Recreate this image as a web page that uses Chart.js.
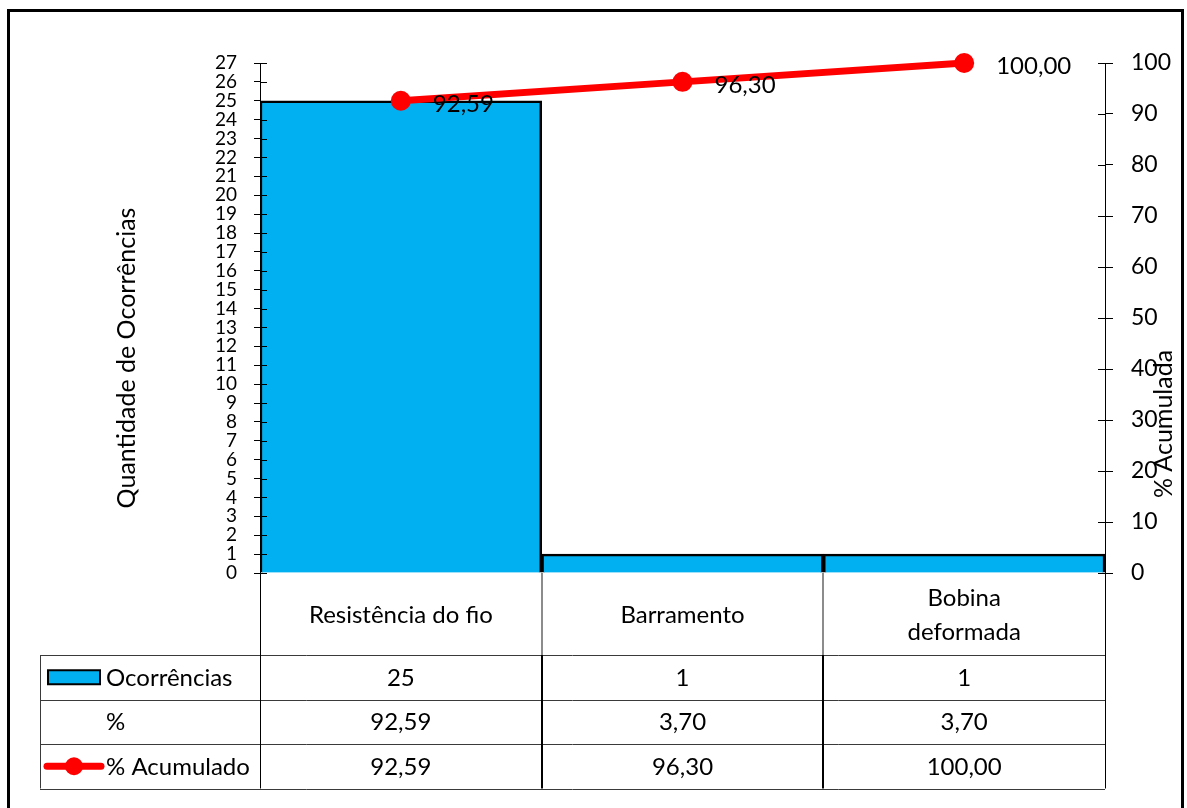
<!DOCTYPE html>
<html lang="pt-BR">
<head>
<meta charset="utf-8">
<title>Diagrama de Pareto</title>
<script src="https://cdn.jsdelivr.net/npm/chart.js@4.4.0/dist/chart.umd.min.js"></script>
<style>
  html, body { margin: 0; padding: 0; background: #fff; }
  canvas { display: block; }
</style>
</head>
<body>
<canvas id="pareto" width="1187" height="808"></canvas>
<script>
// Dados do gráfico
const categorias = ['Resistência do fio', 'Barramento', ['Bobina', 'deformada']];
const ocorrencias = [25, 1, 1];
const percentual = [92.59, 3.70, 3.70];
const acumulado = [92.59, 96.30, 100.00];
const rotulosTabela = ['Ocorrências', '%', '% Acumulado'];
const tituloEsq = 'Quantidade de Ocorrências';
const tituloDir = '% Acumulada';

const FONTE = 'Lato, "Open Sans", sans-serif';
const AZUL = '#00B0F0';
const VERMELHO = '#FF0000';

function fmt(v) {
  return v.toFixed(2).replace('.', ',');
}

// Desenha tabela de dados, títulos, rótulos e moldura
const extrasPareto = {
  id: 'extrasPareto',
  afterDraw(chart) {
    const ctx = chart.ctx;
    const area = chart.chartArea;
    const sx = chart.scales.x;
    const sy = chart.scales.y;
    const sy1 = chart.scales.y1;

    ctx.save();

    // ticks internos (atravessam o eixo)
    ctx.strokeStyle = '#000';
    ctx.lineWidth = 1;
    sy.ticks.forEach(t => {
      const py = Math.round(sy.getPixelForValue(t.value)) + 0.5;
      ctx.beginPath(); ctx.moveTo(area.left, py); ctx.lineTo(area.left + 7, py); ctx.stroke();
    });
    sy1.ticks.forEach(t => {
      const py = Math.round(sy1.getPixelForValue(t.value)) + 0.5;
      ctx.beginPath(); ctx.moveTo(area.right - 7, py); ctx.lineTo(area.right, py); ctx.stroke();
    });

    // rótulos da linha acumulada
    ctx.fillStyle = '#000';
    ctx.font = '24px ' + FONTE;
    ctx.textAlign = 'left';
    ctx.textBaseline = 'middle';
    chart.getDatasetMeta(1).data.forEach((pt, i) => {
      ctx.fillText(fmt(acumulado[i]), pt.x + 32, pt.y + 3);
    });

    // títulos dos eixos
    ctx.font = '25px ' + FONTE;
    ctx.textAlign = 'center';
    ctx.save();
    ctx.translate(127, 358);
    ctx.rotate(-Math.PI / 2);
    ctx.fillText(tituloEsq, 0, 0);
    ctx.restore();
    ctx.save();
    ctx.translate(1164, 424);
    ctx.rotate(-Math.PI / 2);
    ctx.fillText(tituloDir, 0, 0);
    ctx.restore();

    // tabela de dados
    const half = (sx.getPixelForValue(1) - sx.getPixelForValue(0)) / 2;
    const bordas = categorias.map((c, i) => sx.getPixelForValue(i) - half);
    bordas.push(area.right);
    const topo = area.bottom;
    const catBase = topo + 82;
    const altLinha = 44.5;
    const linhas = [catBase, catBase + altLinha, catBase + 2 * altLinha, catBase + 3 * altLinha];
    const colEsq = 40;
    const fim = linhas[3];

    // linhas horizontais
    ctx.strokeStyle = '#3a3a3a';
    ctx.lineWidth = 1;
    linhas.forEach(ly => {
      const y = Math.round(ly) + 0.5;
      ctx.beginPath(); ctx.moveTo(colEsq, y); ctx.lineTo(area.right, y); ctx.stroke();
    });
    // coluna esquerda
    ctx.beginPath(); ctx.moveTo(colEsq + 0.5, linhas[0]); ctx.lineTo(colEsq + 0.5, fim); ctx.stroke();
    // verticais externas
    ctx.strokeStyle = '#000';
    ctx.beginPath(); ctx.moveTo(Math.round(area.left) + 0.5, topo); ctx.lineTo(Math.round(area.left) + 0.5, fim); ctx.stroke();
    ctx.beginPath(); ctx.moveTo(Math.round(area.right) + 0.5, topo); ctx.lineTo(Math.round(area.right) + 0.5, fim); ctx.stroke();
    // separadores internos
    for (let i = 1; i < categorias.length; i++) {
      const bx = Math.round(bordas[i]);
      ctx.strokeStyle = '#8c8c8c';
      ctx.lineWidth = 2;
      ctx.beginPath(); ctx.moveTo(bx, topo); ctx.lineTo(bx, catBase); ctx.stroke();
      ctx.strokeStyle = '#000';
      ctx.beginPath(); ctx.moveTo(bx, catBase); ctx.lineTo(bx, fim); ctx.stroke();
    }

    // textos das categorias
    ctx.fillStyle = '#000';
    ctx.font = '24px ' + FONTE;
    ctx.textAlign = 'center';
    ctx.textBaseline = 'middle';
    categorias.forEach((c, i) => {
      const cx = sx.getPixelForValue(i);
      const partes = Array.isArray(c) ? c : [c];
      const meio = (topo + catBase) / 2 + 1;
      partes.forEach((p, j) => {
        ctx.fillText(p, cx, meio + (j - (partes.length - 1) / 2) * 34);
      });
    });

    // valores
    const series = [ocorrencias.map(String), percentual.map(fmt), acumulado.map(fmt)];
    series.forEach((serie, r) => {
      const cy = linhas[r] + altLinha / 2 + 1;
      serie.forEach((v, i) => {
        ctx.fillText(v, sx.getPixelForValue(i), cy);
      });
    });

    // legenda dentro da tabela
    ctx.textAlign = 'left';
    rotulosTabela.forEach((rot, r) => {
      ctx.fillText(rot, 106, linhas[r] + altLinha / 2 + 1);
    });
    // chave da barra
    const ky = linhas[0] + altLinha / 2;
    ctx.fillStyle = AZUL;
    ctx.fillRect(48, ky - 7, 52, 14);
    ctx.strokeStyle = '#000';
    ctx.lineWidth = 2;
    ctx.strokeRect(48, ky - 7, 52, 14);
    // chave da linha
    const ly = linhas[2] + altLinha / 2;
    ctx.strokeStyle = VERMELHO;
    ctx.lineWidth = 7;
    ctx.lineCap = 'round';
    ctx.beginPath(); ctx.moveTo(47, ly); ctx.lineTo(101, ly); ctx.stroke();
    ctx.fillStyle = VERMELHO;
    ctx.beginPath(); ctx.arc(74, ly, 9, 0, Math.PI * 2); ctx.fill();

    // moldura
    ctx.strokeStyle = '#000';
    ctx.lineWidth = 3;
    ctx.lineCap = 'butt';
    ctx.strokeRect(8.5, 10.5, 1174, 820);

    ctx.restore();
  }
};

const ctx = document.getElementById('pareto').getContext('2d');

new Chart(ctx, {
  data: {
    labels: categorias,
    datasets: [
      {
        type: 'bar',
        label: 'Ocorrências',
        data: ocorrencias,
        yAxisID: 'y',
        backgroundColor: AZUL,
        borderColor: '#000',
        borderWidth: 2.5,
        categoryPercentage: 1,
        barPercentage: 1,
        order: 2
      },
      {
        type: 'line',
        label: '% Acumulado',
        data: acumulado,
        yAxisID: 'y1',
        borderColor: VERMELHO,
        backgroundColor: VERMELHO,
        borderWidth: 7,
        pointRadius: 10,
        pointBorderWidth: 0,
        pointBackgroundColor: VERMELHO,
        tension: 0,
        clip: false,
        order: 1
      }
    ]
  },
  options: {
    responsive: false,
    animation: false,
    layout: { padding: { top: 63, left: 0, right: 0, bottom: 0 } },
    plugins: {
      legend: { display: false },
      tooltip: { enabled: false }
    },
    scales: {
      x: {
        offset: true,
        ticks: { display: false },
        grid: { display: false },
        border: { display: false },
        afterFit: s => { s.height = 235; }
      },
      y: {
        position: 'left',
        min: 0,
        max: 27,
        ticks: {
          stepSize: 1,
          autoSkip: false,
          color: '#000',
          padding: 17,
          font: { family: FONTE, size: 19 }
        },
        grid: { drawOnChartArea: false, tickLength: 6, color: '#000' },
        border: { color: '#000', width: 1 },
        afterFit: s => { s.width = 260; }
      },
      y1: {
        position: 'right',
        min: 0,
        max: 100,
        ticks: {
          stepSize: 10,
          color: '#000',
          padding: 18,
          font: { family: FONTE, size: 23 }
        },
        grid: { drawOnChartArea: false, tickLength: 8, color: '#000' },
        border: { color: '#000', width: 1 },
        afterFit: s => { s.width = 82; }
      }
    }
  },
  plugins: [extrasPareto]
});
</script>
</body>
</html>
